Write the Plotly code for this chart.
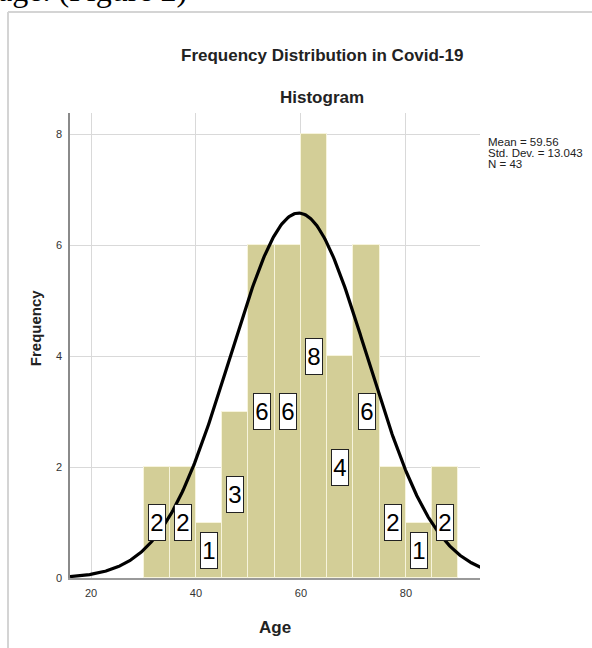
import numpy as np
import plotly.graph_objects as go

# ---- data ----
bin_starts = [30, 35, 40, 45, 50, 55, 60, 65, 70, 75, 80, 85]
counts = [2, 2, 1, 3, 6, 6, 8, 4, 6, 2, 1, 2]
bin_width = 5
mean_age = 59.56
std_age = 13.043
n_obs = 43
x_ticks = [20, 40, 60, 80]
y_ticks = [0, 2, 4, 6, 8]

centers = [s + bin_width / 2 for s in bin_starts]

# fitted normal curve from the reported statistics
xc = np.linspace(16, 94.2, 400)
yc = n_obs * bin_width / (std_age * np.sqrt(2 * np.pi)) * np.exp(-0.5 * ((xc - mean_age) / std_age) ** 2)

FONT = "Liberation Sans, Arial, sans-serif"

fig = go.Figure()
fig.add_trace(go.Bar(
    x=centers, y=counts, width=bin_width,
    marker=dict(color="#d3ce97", line=dict(color="#f7f4dc", width=1)),
    hoverinfo="skip", showlegend=False,
))
fig.add_trace(go.Scatter(
    x=xc, y=yc, mode="lines",
    line=dict(color="black", width=3.2),
    hoverinfo="skip", showlegend=False,
))

annotations = []
for c, v in zip(centers, counts):
    annotations.append(dict(
        x=c, y=v / 2, xref="x", yref="y", text=str(v), showarrow=False,
        font=dict(family=FONT, size=24, color="black"),
        bgcolor="white", bordercolor="#222", borderwidth=1, borderpad=1,
        width=14, height=33, xanchor="center", yanchor="middle",
    ))

# titles
annotations.append(dict(x=0.615, y=1.1247, xref="paper", yref="paper",
                        text="<b>Frequency Distribution in Covid-19</b>", showarrow=False,
                        font=dict(family=FONT, size=17, color="#222"),
                        xanchor="center", yanchor="middle"))
annotations.append(dict(x=0.615, y=1.0344, xref="paper", yref="paper",
                        text="<b>Histogram</b>", showarrow=False,
                        font=dict(family=FONT, size=17, color="#222"),
                        xanchor="center", yanchor="middle"))
# axis titles
annotations.append(dict(x=-0.085, y=0.5376, xref="paper", yref="paper",
                        text="<b>Frequency</b>", showarrow=False, textangle=-90,
                        font=dict(family=FONT, size=15, color="#222"),
                        xanchor="center", yanchor="middle"))
annotations.append(dict(x=0.5, y=-0.1054, xref="paper", yref="paper",
                        text="<b>Age</b>", showarrow=False,
                        font=dict(family=FONT, size=17, color="#222"),
                        xanchor="center", yanchor="middle"))
# statistics
stats = [f"Mean = {mean_age:.2f}", f"Std. Dev. = {std_age:.3f}", f"N = {n_obs}"]
for i, s in enumerate(stats):
    py = 142 + i * 10.8
    annotations.append(dict(x=(486 - 70) / 410, y=1 - (py - 113) / 465,
                            xref="paper", yref="paper", text=s, showarrow=False,
                            font=dict(family=FONT, size=11.5, color="#222"),
                            xanchor="left", yanchor="middle"))
# document text cut off at the top of the screenshot
annotations.append(dict(x=(-4 - 70) / 410, y=1 + (113 + 30) / 465,
                        xref="paper", yref="paper", text="age. (Figure 2)", showarrow=False,
                        font=dict(family="Liberation Serif, Times New Roman, serif", size=32, color="black"),
                        xanchor="left", yanchor="top"))

shapes = [
    dict(type="line", xref="paper", yref="paper",
         x0=(8 - 70) / 410, x1=(640 - 70) / 410,
         y0=1 + (113 - 12) / 465, y1=1 + (113 - 12) / 465,
         line=dict(color="#d4d4d4", width=2)),
    dict(type="line", xref="paper", yref="paper",
         x0=(8 - 70) / 410, x1=(8 - 70) / 410,
         y0=1 + (113 - 12) / 465, y1=1 - (700 - 113) / 465,
         line=dict(color="#d4d4d4", width=2)),
]

fig.update_layout(
    width=592, height=648,
    margin=dict(l=70, r=112, t=113, b=70),
    paper_bgcolor="white", plot_bgcolor="white",
    bargap=0,
    annotations=annotations, shapes=shapes,
    xaxis=dict(range=[16, 94.1], tickvals=x_ticks, showgrid=True, gridcolor="#d9d9d9",
               gridwidth=1, zeroline=False, showline=True, linecolor="#9a9a9a", linewidth=1.5,
               ticks="outside", ticklen=4, tickcolor="rgba(0,0,0,0)",
               tickfont=dict(family=FONT, size=11, color="#333")),
    yaxis=dict(range=[0, 8.38], tickvals=y_ticks, showgrid=True, gridcolor="#d9d9d9",
               gridwidth=1, zeroline=False, showline=True, linecolor="#8a8a8a", linewidth=1.5,
               ticks="outside", ticklen=4, tickcolor="rgba(0,0,0,0)",
               tickfont=dict(family=FONT, size=11, color="#333")),
)

fig.write_html("out.html", config={"displayModeBar": False},
               post_script="document.body.style.margin='0';document.body.style.overflow='hidden';")
